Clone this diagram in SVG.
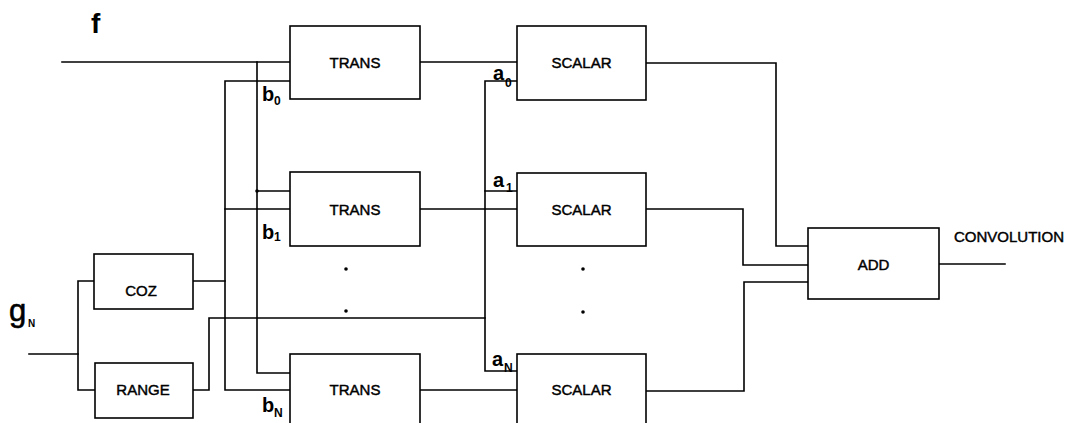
<svg xmlns="http://www.w3.org/2000/svg" width="1068" height="423" viewBox="0 0 1068 423">
<style>
.box{fill:#fff;stroke:#000;stroke-width:1.6}
.w{fill:none;stroke:#000;stroke-width:1.6;stroke-linejoin:miter;stroke-linecap:square}
.t{font-family:"Liberation Sans",Arial,sans-serif;font-size:15px;fill:#000;stroke:#000;stroke-width:0.45;text-anchor:middle}
.lbl{font-family:"Liberation Sans",Arial,sans-serif;font-size:20px;font-weight:bold;fill:#000}
.sub{font-family:"Liberation Sans",Arial,sans-serif;font-size:12px;font-weight:bold;fill:#000}
.dot{fill:#000}
</style>
<rect width="1068" height="423" fill="#fff"/>
<g id="connectors">
<path class="w" d="M62 62 H290"/>
<path class="w" d="M257 62 V373 H290"/>
<path class="w" d="M257 191 H290"/>
<circle class="dot" cx="257" cy="191" r="1.8"/>
<path class="w" d="M290 81 H225 V390 H290"/>
<path class="w" d="M225 209 H290"/>
<path class="w" d="M193 281 H225"/>
<path class="w" d="M29 354 H78"/>
<path class="w" d="M94 281 H78 V390 H95"/>
<path class="w" d="M193 390 H209 V318 H485"/>
<path class="w" d="M521 81 H485 V371 H517"/>
<path class="w" d="M485 191 H517"/>
<path class="w" d="M420 62 H517"/>
<path class="w" d="M420 209 H517"/>
<path class="w" d="M420 390 H517"/>
<path class="w" d="M646 63 H776 V246 H808"/>
<path class="w" d="M646 209 H743 V265 H808"/>
<path class="w" d="M646 391 H744 V282 H808"/>
<path class="w" d="M939 264 H1005"/>
<circle class="dot" cx="346" cy="269" r="1.8"/>
<circle class="dot" cx="346" cy="311" r="1.8"/>
<circle class="dot" cx="583" cy="269" r="1.8"/>
<circle class="dot" cx="583" cy="312" r="1.8"/>
</g>
<g id="trans0"><rect class="box" x="290" y="26" width="130" height="73"/><text class="t" x="355" y="68">TRANS</text></g>
<g id="trans1"><rect class="box" x="290" y="172" width="130" height="74"/><text class="t" x="355" y="215">TRANS</text></g>
<g id="transN"><rect class="box" x="290" y="354" width="130" height="74"/><text class="t" x="355" y="395">TRANS</text></g>
<g id="scalar0"><rect class="box" x="517" y="26" width="129" height="74"/><text class="t" x="581.5" y="68">SCALAR</text></g>
<g id="scalar1"><rect class="box" x="517" y="173" width="129" height="73"/><text class="t" x="581.5" y="215">SCALAR</text></g>
<g id="scalarN"><rect class="box" x="517" y="354" width="129" height="74"/><text class="t" x="581.5" y="395">SCALAR</text></g>
<g id="coz"><rect class="box" x="94" y="254" width="99" height="55"/><text class="t" x="141" y="296">COZ</text></g>
<g id="range"><rect class="box" x="95" y="363" width="98" height="55"/><text class="t" x="143" y="395">RANGE</text></g>
<g id="add"><rect class="box" x="808" y="228" width="131" height="71"/><text class="t" x="873.5" y="270">ADD</text></g>
<g id="labels">
<text class="lbl" x="91" y="33" style="font-size:28px">f</text>
<text class="lbl" x="9" y="321" style="font-size:31px;font-weight:normal;stroke:#000;stroke-width:0.6">g</text>
<text class="sub" x="28" y="327" style="font-size:10px">N</text>
<text class="lbl" x="262" y="101">b</text><text class="sub" x="274" y="105">0</text>
<text class="lbl" x="262" y="239">b</text><text class="sub" x="274" y="241">1</text>
<text class="lbl" x="262" y="412">b</text><text class="sub" x="274" y="417">N</text>
<text class="lbl" x="493" y="80">a</text><text class="sub" x="505" y="87">0</text>
<text class="lbl" x="493" y="187">a</text><text class="sub" x="506" y="192">1</text>
<text class="lbl" x="492" y="366">a</text><text class="sub" x="504" y="372">N</text>
<text class="t" x="954" y="242" style="text-anchor:start">CONVOLUTION</text>
</g>
</svg>
